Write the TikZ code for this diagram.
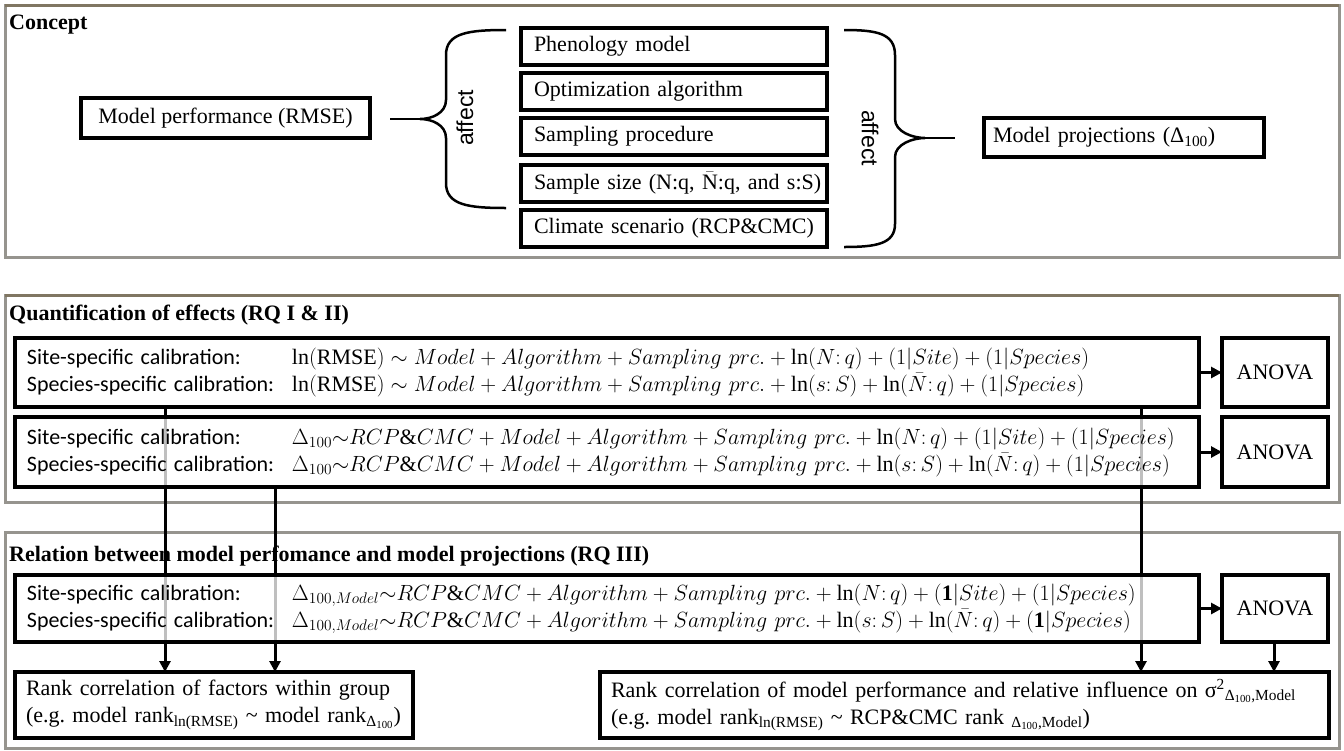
\RequirePackage{fix-cm}
\documentclass[tikz,border=0pt]{standalone}
\usepackage{fontspec}
\setmainfont{Liberation Serif}
\setsansfont{Carlito}
\newfontfamily\affectfont{Liberation Sans}
\usetikzlibrary{arrows.meta}
\definecolor{panelc}{RGB}{150,148,142}
\definecolor{paneltop}{RGB}{128,118,98}
\pgfdeclarelayer{back}
\pgfdeclarelayer{lines}
\pgfsetlayers{back,lines,main}
\frenchspacing
\newcommand\fs{\fontsize{22}{27}\selectfont}
\newcommand\lab[1]{\makebox[265pt][l]{\sffamily #1}}
\begin{document}
\begin{tikzpicture}[x=1pt,y=-1pt,font=\fs,
  bx/.style={draw,line width=4pt,fill=white,fill opacity=0.75,text opacity=1,draw opacity=1,
    anchor=north west,inner sep=0pt,outer sep=0pt},
  cbx/.style={bx,minimum width=306pt,minimum height=37pt,text width=280pt,align=left,inner xsep=13pt},
  fbx/.style={bx,minimum width=1183pt,text width=1160pt,align=left,inner xsep=12pt},
  abx/.style={bx,minimum width=106pt},
  panel/.style={draw=panelc,line width=3pt},
  ptop/.style={draw=paneltop,line width=3pt},
  ttl/.style={anchor=west,font=\fs\bfseries,inner sep=0pt},
  arr/.style={line width=3pt,-{Triangle[length=11pt,width=11pt]}},
  brc/.style={line width=2.5pt},
  aff/.style={font=\affectfont\fontsize{23}{27}\selectfont,inner sep=0pt}]
\useasboundingbox (0,0) rectangle (1344,750);

% ---------- panels and titles ----------
\begin{pgfonlayer}{back}
\fill[white] (0,0) rectangle (1344,750);
\draw[panel] (5,5) rectangle (1339,257);
\draw[ptop] (5,5) -- (1339,5);
\draw[panel] (5,295) rectangle (1339,502);
\draw[ptop] (5,295) -- (1339,295);
\draw[panel] (5,532) rectangle (1339,748);
\node[ttl] (t1) at (9,25) {Concept};
\node[ttl] (t2) at (9,315) {Quantification of effects (RQ I \& II)};
\node[ttl] (t3) at (9,556) {Relation between model perfomance and model projections (RQ III)};
\end{pgfonlayer}

% ---------- concept ----------
\node[bx,minimum width=289pt,minimum height=40pt] (mp) at (81,98) {Model performance (RMSE)};
\node[cbx] (c1) at (521,28) {Phenology model};
\node[cbx] (c2) at (521,73) {Optimization algorithm};
\node[cbx] (c3) at (521,118) {Sampling procedure};
\node[cbx] (c4) at (521,165) {\mbox{Sample size (N:q, $\bar{\mathrm{N}}$:q, and s:S)}};
\node[cbx] (c5) at (521,210) {Climate scenario (RCP\&CMC)};
\node[bx,minimum width=280pt,minimum height=39pt,text width=262pt,align=left,inner xsep=9pt] (mj) at (984,118) {Model projections (Δ\textsubscript{100})};

% left brace
\coordinate (lbl) at (390,119);
\coordinate (lbt) at (420,119);
\draw[brc] (506,30) .. controls (468,30) and (446,33) .. (446,55) -- (446,100)
  .. controls (446,113) and (432,119) .. (lbt) .. controls (432,119) and (446,125) .. (446,138)
  -- (446,183) .. controls (446,205) and (468,208) .. (506,208);
\draw[brc] (lbl) -- (lbt);
\node[aff,rotate=90] (af1) at (465,118) {affect};
% right brace
\coordinate (rbt) at (925,138);
\coordinate (rbr) at (955,138);
\draw[brc] (844,30) .. controls (876,30) and (895,33) .. (895,55) -- (895,119)
  .. controls (895,132) and (913,138) .. (rbt) .. controls (913,138) and (895,144) .. (895,157)
  -- (895,224) .. controls (895,244) and (876,247) .. (844,247);
\draw[brc] (rbt) -- (rbr);
\node[aff,rotate=-90] (af2) at (870,138) {affect};

% ---------- quantification ----------
\node[fbx,minimum height=69pt] (f1) at (15,338)
 {\mbox{\lab{Site-specific calibration:}$\ln(\mathrm{RMSE}) \sim Model + Algorithm + Sampling\ prc. + \ln(N\colon q) + (1|Site) + (1|Species)$}\\
  \mbox{\lab{Species-specific calibration:}$\ln(\mathrm{RMSE}) \sim Model + Algorithm + Sampling\ prc. + \ln(s\colon S) + \ln(\bar{N}\colon q) + (1|Species)$}};
\node[abx,minimum height=69pt] (a1) at (1222,338) {ANOVA};
\node[fbx,minimum height=70pt] (f2) at (15,417)
 {\mbox{\lab{Site-specific calibration:}$\Delta_{100}{\sim}RCP\&CMC + Model + Algorithm + Sampling\ prc. + \ln(N\colon q) + (1|Site) + (1|Species)$}\\
  \mbox{\lab{Species-specific calibration:}$\Delta_{100}{\sim}RCP\&CMC + Model + Algorithm + Sampling\ prc. + \ln(s\colon S) + \ln(\bar{N}\colon q) + (1|Species)$}};
\node[abx,minimum height=70pt] (a2) at (1222,417) {ANOVA};

% ---------- relation ----------
\node[fbx,minimum height=67pt] (f3) at (15,575)
 {\mbox{\lab{Site-specific calibration:}$\Delta_{100,Model}{\sim}RCP\&CMC + Algorithm + Sampling\ prc. + \ln(N\colon q) + (\mathbf{1}|Site) + (1|Species)$}\\
  \mbox{\lab{Species-specific calibration:}$\Delta_{100,Model}{\sim}RCP\&CMC + Algorithm + Sampling\ prc. + \ln(s\colon S) + \ln(\bar{N}\colon q) + (\mathbf{1}|Species)$}};
\node[abx,minimum height=67pt] (a3) at (1222,575) {ANOVA};

\node[bx,minimum width=398pt,minimum height=66pt,text width=376pt,align=left,inner xsep=11pt] (bl) at (15,672)
 {\mbox{Rank correlation of factors within group}\\
  \mbox{(e.g. model rank\textsubscript{ln(RMSE)} \textasciitilde{} model rank\textsubscript{Δ\textsubscript{100}})}};
\node[bx,minimum width=729pt,minimum height=66pt,text width=707pt,align=left,inner xsep=11pt] (br) at (600,672)
 {\mbox{Rank correlation of model performance and relative influence on σ\textsuperscript{2}\textsubscript{Δ\textsubscript{100},Model}}\\
  \mbox{(e.g. model rank\textsubscript{ln(RMSE)} \textasciitilde{} RCP\&CMC rank \textsubscript{Δ\textsubscript{100},Model})}};

% ---------- connectors ----------
\draw[arr] (f1.east) -- (a1.west);
\draw[arr] (f2.east) -- (a2.west);
\draw[arr] (f3.east) -- (a3.west);

\coordinate (xa) at (165,0);
\coordinate (xb) at (275,0);
\coordinate (xc) at (1141,0);
\coordinate (xd) at (1274,0);
\begin{pgfonlayer}{lines}
\draw[arr] (f1.south -| xa) -- (bl.north -| xa);
\draw[arr] (f2.south -| xb) -- (bl.north -| xb);
\draw[arr] (f1.south -| xc) -- (br.north -| xc);
\end{pgfonlayer}
\draw[arr] (a3.south -| xd) -- (br.north -| xd);
\end{tikzpicture}
\end{document}
